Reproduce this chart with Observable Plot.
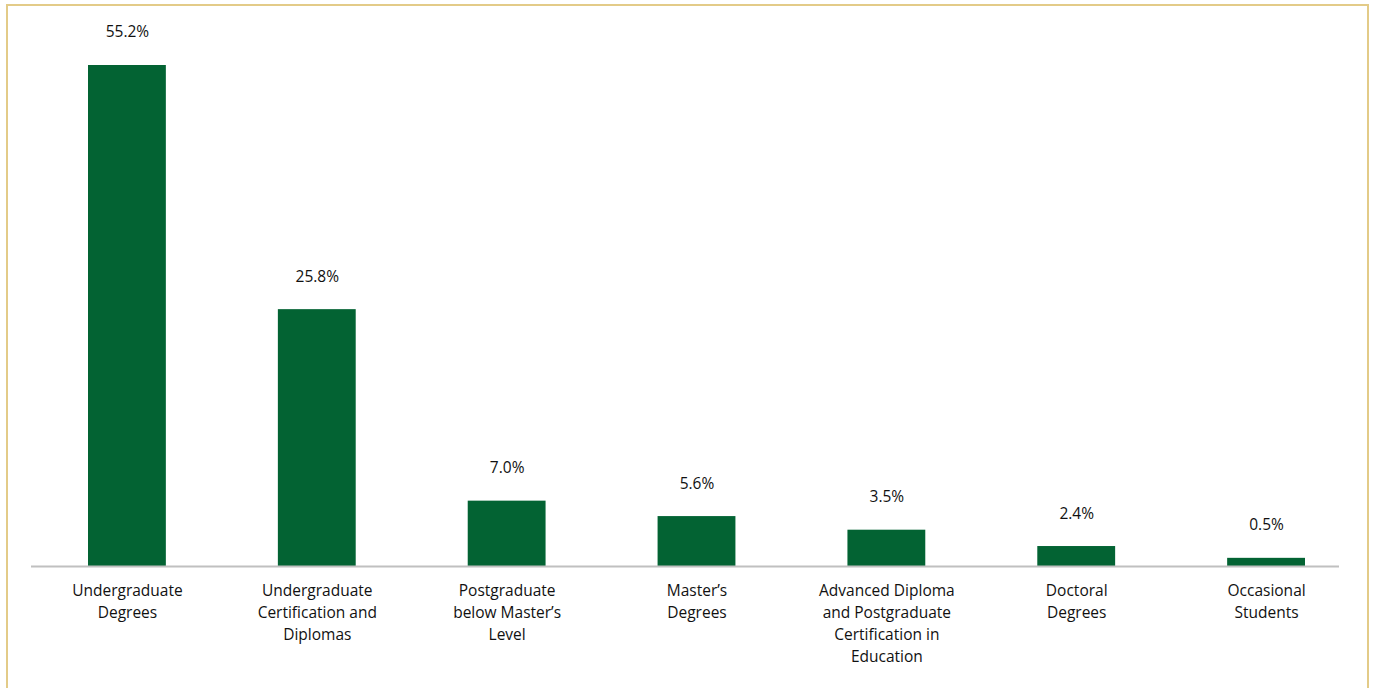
<!DOCTYPE html>
<html>
<head>
<meta charset="utf-8">
<script src="https://cdn.jsdelivr.net/npm/d3@7"></script>
<script src="https://cdn.jsdelivr.net/npm/@observablehq/plot@0.6"></script>
<style>
  html, body { margin: 0; padding: 0; background: #fff; overflow: hidden; }
  #wrap { position: relative; width: 1375px; height: 688px; }
  #border { position: absolute; left: 6px; top: 4px; width: 1363px; height: 720px; border: 2px solid #e3cb88; box-sizing: border-box; pointer-events: none; }
  #chart { position: absolute; left: 0; top: 0; }
</style>
</head>
<body>
<div id="wrap">
  <div id="chart"></div>
  <div id="border"></div>
</div>
<script>
const categories = [
  "Undergraduate\nDegrees",
  "Undergraduate\nCertification and\nDiplomas",
  "Postgraduate\nbelow Master’s\nLevel",
  "Master’s\nDegrees",
  "Advanced Diploma\nand Postgraduate\nCertification in\nEducation",
  "Doctoral\nDegrees",
  "Occasional\nStudents"
];
// printed data labels (percent)
const shares = [55.2, 25.8, 7.0, 5.6, 3.5, 2.4, 0.5];
// bar lengths as drawn in the picture (same units as the labels)
const barLengths = [55.2, 28.3, 7.2, 5.5, 4.0, 2.2, 0.9];

const data = categories.map((c, i) => ({category: c, share: shares[i], bar: barLengths[i]}));

const font = "'Open Sans', 'Noto Sans', sans-serif";

const chart = Plot.plot({
  width: 1375,
  height: 688,
  marginLeft: 31,
  marginRight: 36,
  marginTop: 65,
  marginBottom: 122,
  style: {fontFamily: font, fontSize: "15.5px", color: "#111", background: "transparent"},
  x: {domain: categories, range: [32, 1361], paddingInner: 0.59, paddingOuter: 0.295, round: false, label: null},
  y: {domain: [0, 55.2], range: [566, 65], axis: null},
  marks: [
    Plot.barY(data, {x: "category", y: "bar", fill: "#036333"}),
    Plot.ruleY([0], {stroke: "#c0c0c0", strokeWidth: 2}),
    Plot.text(data, {x: "category", y: "bar", text: d => d.share.toFixed(1) + "%", dy: -33, lineAnchor: "middle", fontSize: 15.5, fill: "#111"}),
    Plot.axisX({tickSize: 0, tickPadding: 14, fontSize: 15.5, lineHeight: 1.42, label: null, fill: "#111"})
  ]
});
document.getElementById("chart").appendChild(chart);
</script>
</body>
</html>
